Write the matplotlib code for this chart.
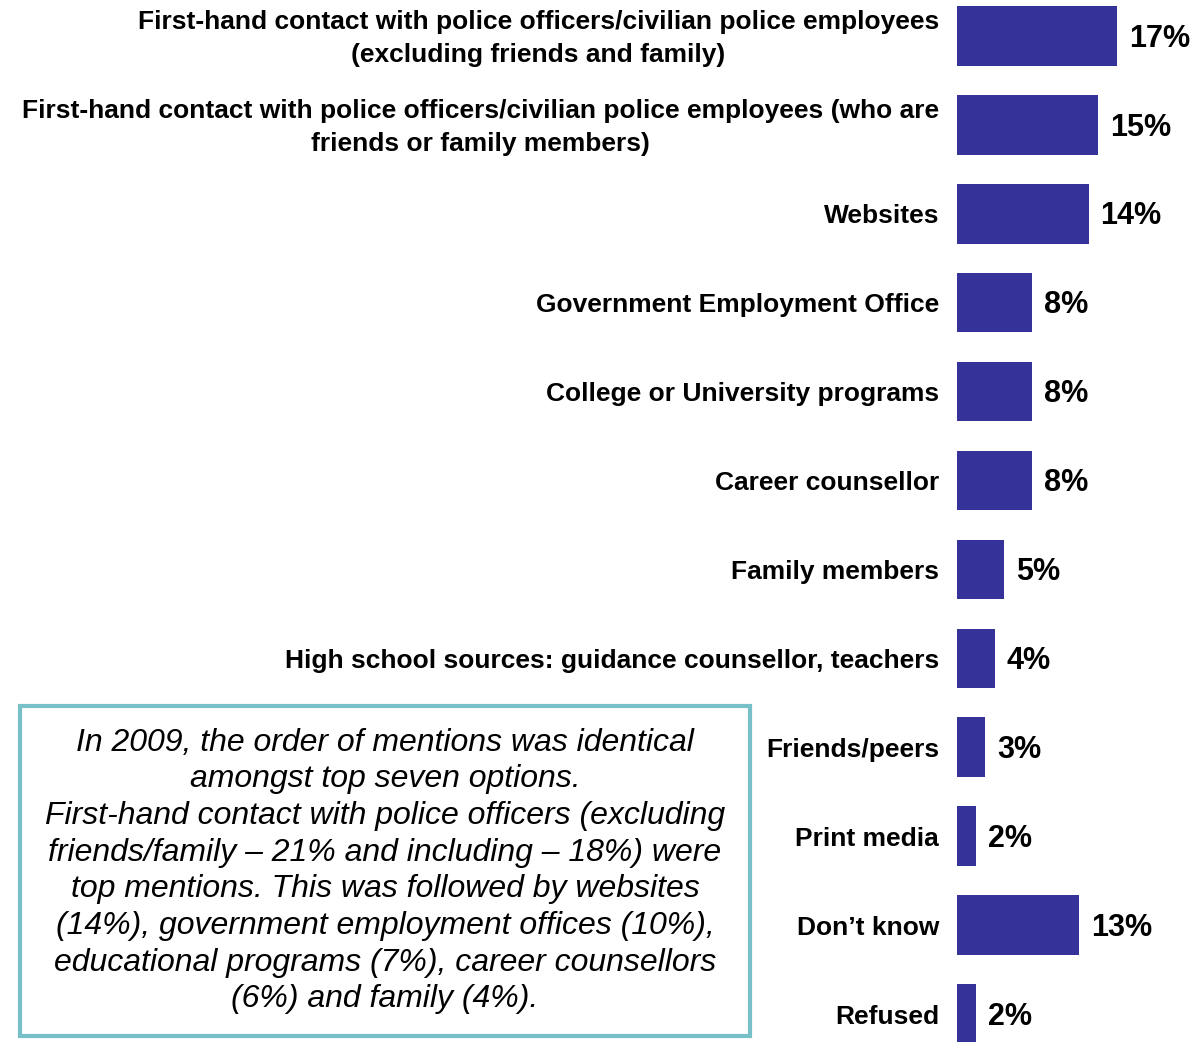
import numpy as np
import matplotlib.pyplot as plt
from matplotlib.patches import Rectangle

plt.rcParams['font.family'] = ['Liberation Sans', 'DejaVu Sans']

categories = [
    "First-hand contact with police officers/civilian police employees\n(excluding friends and family)",
    "First-hand contact with police officers/civilian police employees (who are\nfriends or family members)",
    "Websites",
    "Government Employment Office",
    "College or University programs",
    "Career counsellor",
    "Family members",
    "High school sources: guidance counsellor, teachers",
    "Friends/peers",
    "Print media",
    "Don\u2019t know",
    "Refused",
]
values = [17, 15, 14, 8, 8, 8, 5, 4, 3, 2, 13, 2]

note = ("In 2009, the order of mentions was identical\n"
        "amongst top seven options.\n"
        "First-hand contact with police officers (excluding\n"
        "friends/family \u2013 21% and including \u2013 18%) were\n"
        "top mentions. This was followed by websites\n"
        "(14%), government employment offices (10%),\n"
        "educational programs (7%), career counsellors\n"
        "(6%) and family (4%).")

W, H = 1194, 1042
fig = plt.figure(figsize=(W / 100, H / 100), dpi=100)
ax = fig.add_axes([957 / W, 0, 1 - 957 / W, 1])

y = np.arange(len(values))
ax.barh(y, values, height=0.67, color="#353399")
ax.set_xlim(0, (W - 957) / 9.41)
ax.set_ylim(11 + 28 / 89, -36 / 89)
ax.axis("off")

for yi, v, c in zip(y, values, categories):
    ax.text(v + 1.25, yi + 0.03, f"{v}%", va="center", ha="left",
            fontsize=22, fontweight="bold")
    ax.text(-1.9, yi + 0.03, c, va="center", ha="right", multialignment="center",
            fontsize=19, fontweight="bold", linespacing=1.5)

# note box on the lower left
box = Rectangle((20 / W, 1 - 1036 / H), 730 / W, 330 / H,
                transform=fig.transFigure, fill=False,
                edgecolor="#78C0C8", linewidth=3)
fig.add_artist(box)
fig.text(385 / W, 1 - 871 / H, note, ha="center", va="center",
         style="italic", fontsize=23, linespacing=1.29)

fig.savefig("out.png", dpi=100)
